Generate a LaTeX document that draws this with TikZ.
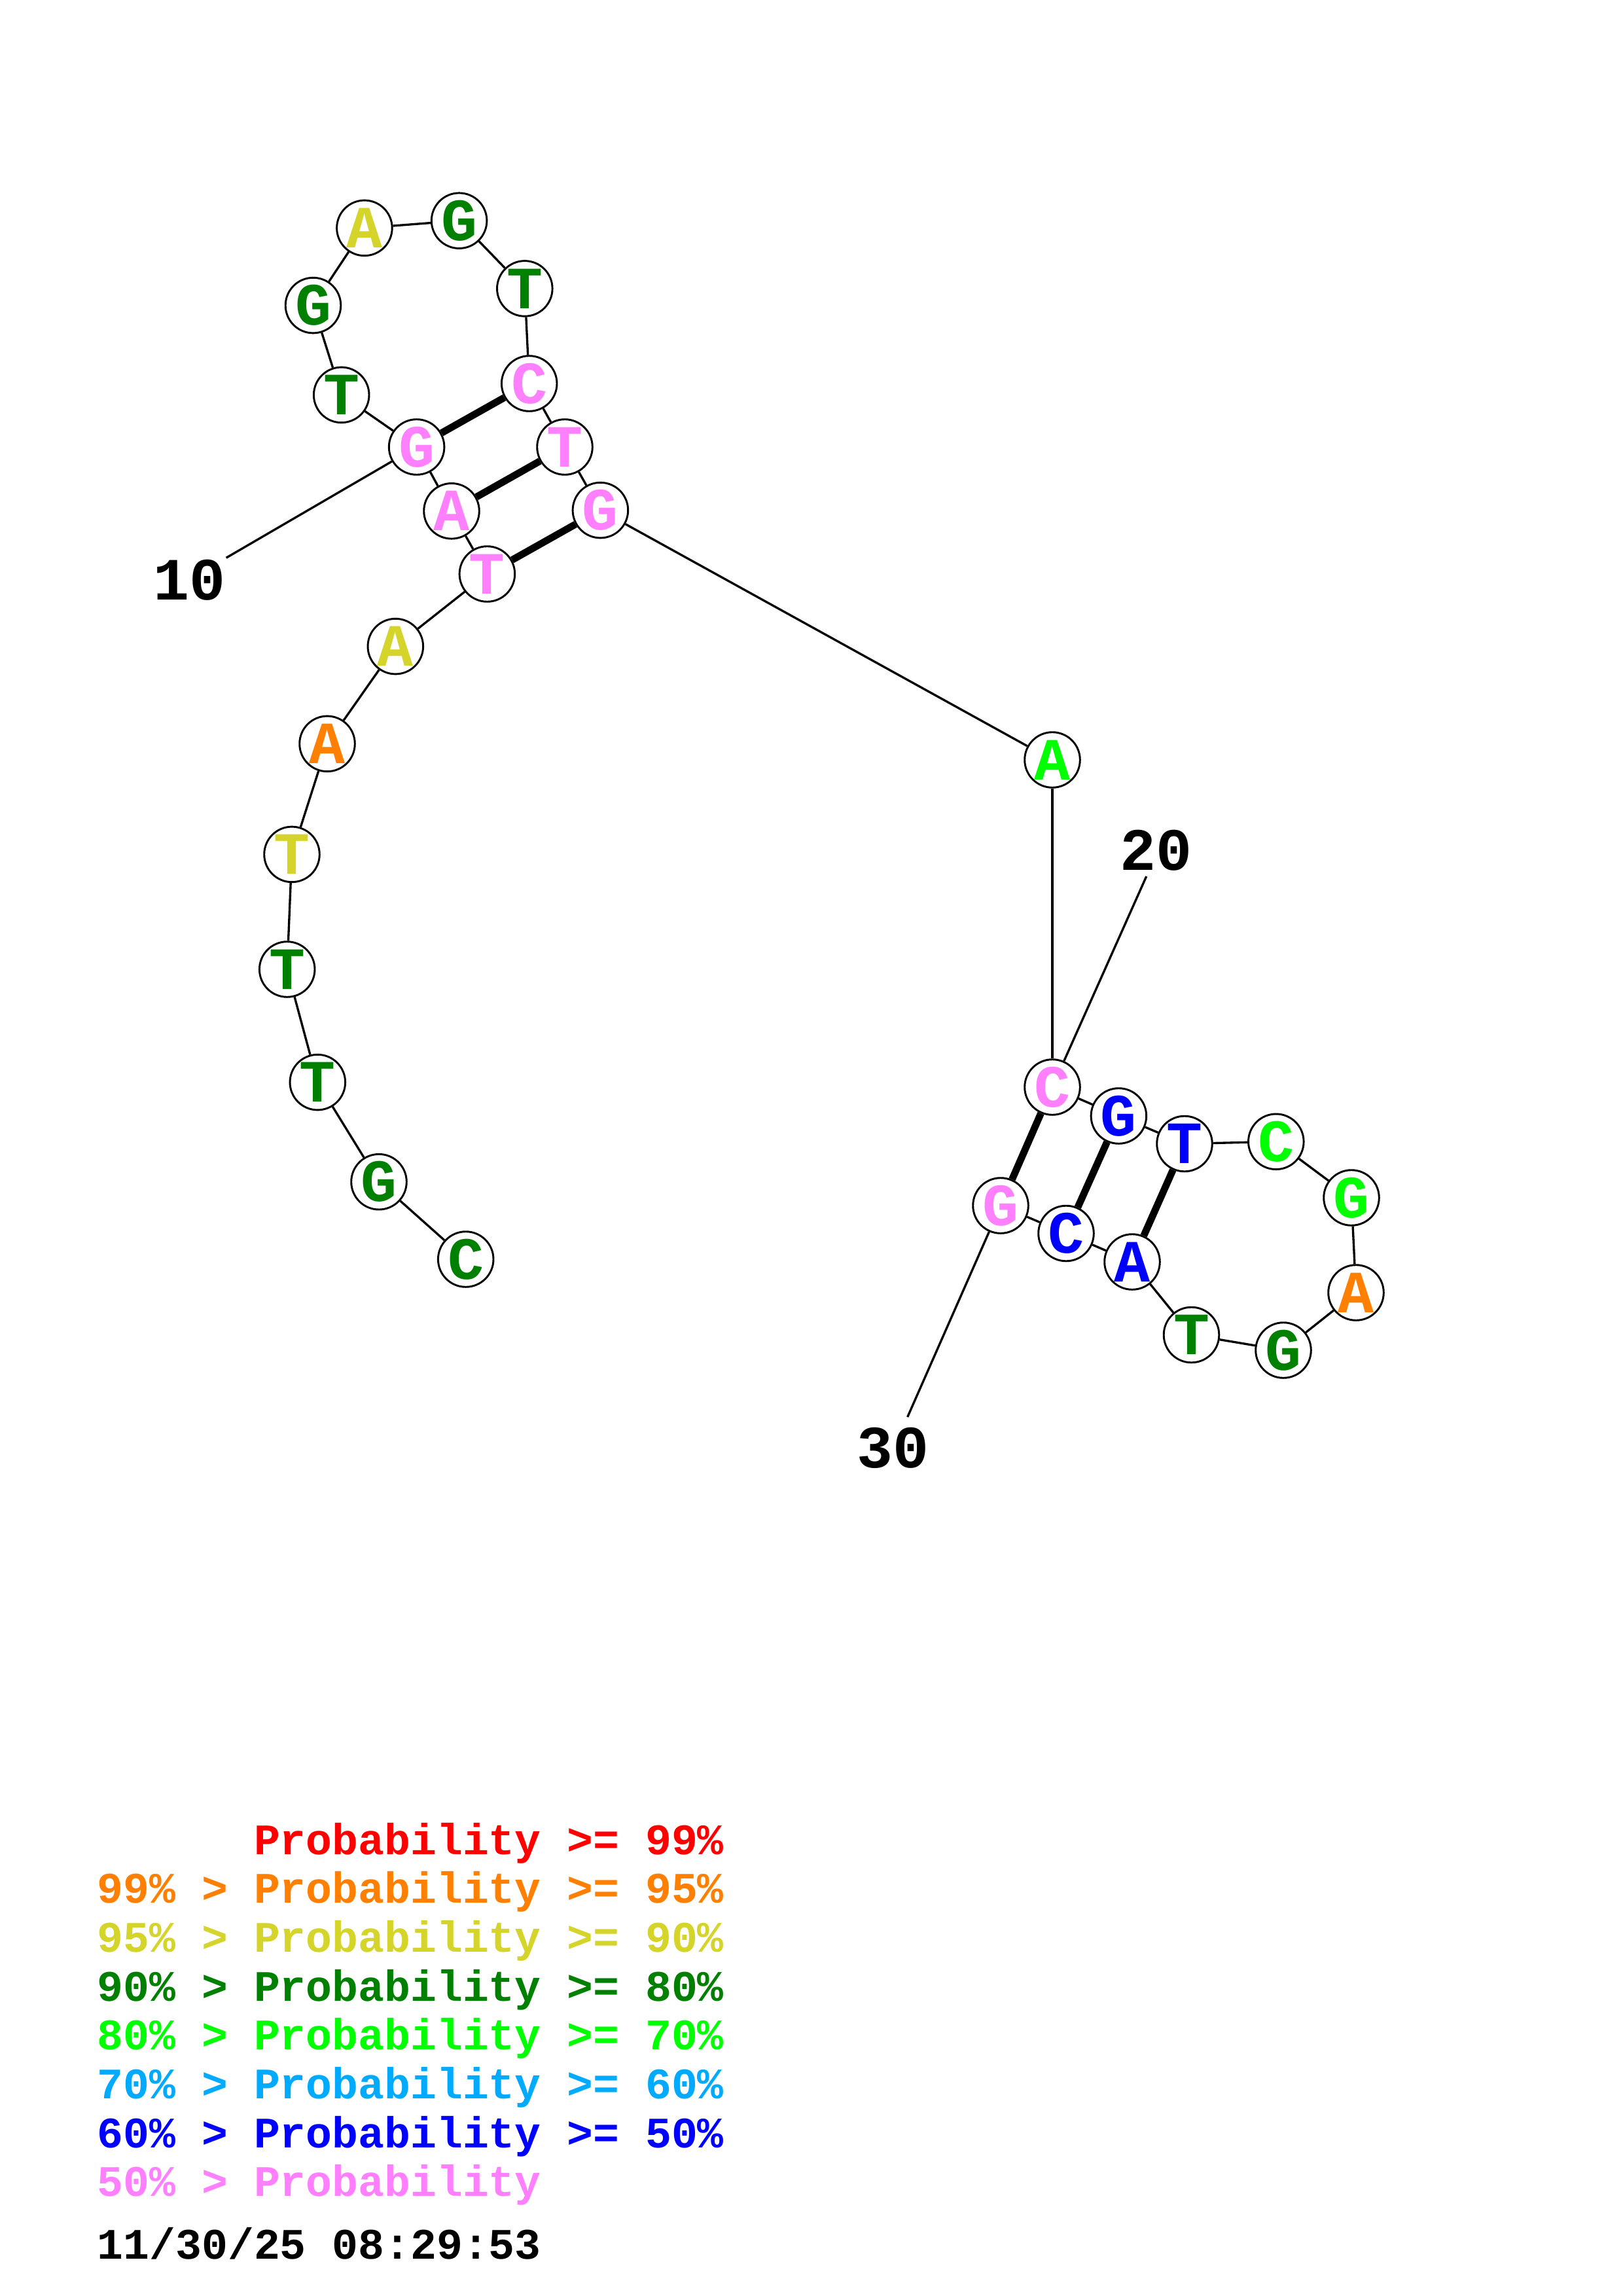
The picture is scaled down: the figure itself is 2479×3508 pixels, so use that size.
\documentclass[tikz,border=0pt]{standalone}
\usepackage{fontspec}
\newfontfamily\cour{Liberation Mono}
\definecolor{pk}{RGB}{255,128,255}
\definecolor{dg}{RGB}{0,128,0}
\definecolor{yl}{RGB}{212,212,42}
\definecolor{or}{RGB}{255,128,0}
\definecolor{bg}{RGB}{0,255,0}
\definecolor{lb}{RGB}{0,170,255}
\definecolor{bl}{RGB}{0,0,255}
\definecolor{rd}{RGB}{255,0,0}
\tikzset{
  base/.style={circle,draw=black,line width=0.7pt,fill=white,minimum size=20.3pt,inner sep=0pt,font=\cour\bfseries\fontsize{22}{22}\selectfont},
  bb/.style={line width=0.8pt},
  pr/.style={line width=2.6pt},
  numlab/.style={font=\cour\bfseries\fontsize{22}{22}\selectfont,inner sep=0pt},
  leg/.style={anchor=base west,inner sep=0pt,font=\cour\bfseries\fontsize{15.95}{18}\selectfont}
}
\begin{document}
\begin{tikzpicture}[x=0.24pt,y=-0.24pt]
\useasboundingbox[fill=white] (0,0) rectangle (2479,3508);
\begin{scope}[every node/.style={base}]
\node[text=dg] (n1) at (711.7,1924) {C};
\node[text=dg] (n2) at (579,1805.7) {G};
\node[text=dg] (n3) at (485.3,1653.6) {T};
\node[text=dg] (n4) at (438.7,1481) {T};
\node[text=yl] (n5) at (446,1305.4) {T};
\node[text=or] (n6) at (500,1136.4) {A};
\node[text=yl] (n7) at (604.3,987.6) {A};
\node[text=pk] (n8) at (744.4,877) {T};
\node[text=pk] (n9) at (690,780.8) {A};
\node[text=pk] (n10) at (636.6,683) {G};
\node[text=dg] (n11) at (521.7,603.4) {T};
\node[text=dg] (n12) at (478.5,466.6) {G};
\node[text=yl] (n13) at (556.9,348.4) {A};
\node[text=dg] (n14) at (701.6,337.2) {G};
\node[text=dg] (n15) at (801.8,440.9) {T};
\node[text=pk] (n16) at (808.7,586) {C};
\node[text=pk] (n17) at (863,683) {T};
\node[text=pk] (n18) at (917.4,779.6) {G};
\node[text=bg] (n19) at (1608,1161) {A};
\node[text=pk] (n20) at (1608,1661) {C};
\node[text=bl] (n21) at (1709.4,1705) {G};
\node[text=bl] (n22) at (1810,1747.5) {T};
\node[text=bg] (n23) at (1949.8,1744.3) {C};
\node[text=bg] (n24) at (2065,1830) {G};
\node[text=or] (n25) at (2072,1975) {A};
\node[text=dg] (n26) at (1961,2063) {G};
\node[text=dg] (n27) at (1820.5,2039.5) {T};
\node[text=bl] (n28) at (1730,1928) {A};
\node[text=bl] (n29) at (1629,1884.5) {C};
\node[text=pk] (n30) at (1529,1842) {G};
\end{scope}
% backbone
\foreach \a/\b in {1/2,2/3,3/4,4/5,5/6,6/7,7/8,8/9,9/10,10/11,11/12,12/13,13/14,14/15,15/16,16/17,17/18,18/19,19/20,20/21,21/22,22/23,23/24,24/25,25/26,26/27,27/28,28/29,29/30}
  \draw[bb] (n\a) -- (n\b);
% base pairs
\foreach \a/\b in {10/16,9/17,8/18,20/30,21/29,22/28}
  \draw[pr] (n\a) -- (n\b);
% number labels
\coordinate (e10) at (345.7,852.3);
\coordinate (e20) at (1751.7,1339);
\coordinate (e30) at (1386.7,2165);
\draw[bb] (n10) -- (e10);
\draw[bb] (n20) -- (e20);
\draw[bb] (n30) -- (e30);
\node[numlab] (l10) at (290,886.7) {10};
\node[numlab] (l20) at (1766,1299) {20};
\node[numlab] (l30) at (1364,2212) {30};
% legend
\node[leg,text=rd] (g1) at (148,2833) {\phantom{99\% > }Probability >= 99\%};
\node[leg,text=or] (g2) at (148,2907.7) {99\% > Probability >= 95\%};
\node[leg,text=yl] (g3) at (148,2982.4) {95\% > Probability >= 90\%};
\node[leg,text=dg] (g4) at (148,3057.1) {90\% > Probability >= 80\%};
\node[leg,text=bg] (g5) at (148,3131.8) {80\% > Probability >= 70\%};
\node[leg,text=lb] (g6) at (148,3206.5) {70\% > Probability >= 60\%};
\node[leg,text=bl] (g7) at (148,3281.2) {60\% > Probability >= 50\%};
\node[leg,text=pk] (g8) at (148,3355.9) {50\% > Probability};
\node[leg,text=black] (date) at (148,3451.7) {11/30/25 08:29:53};
\end{tikzpicture}
\end{document}
